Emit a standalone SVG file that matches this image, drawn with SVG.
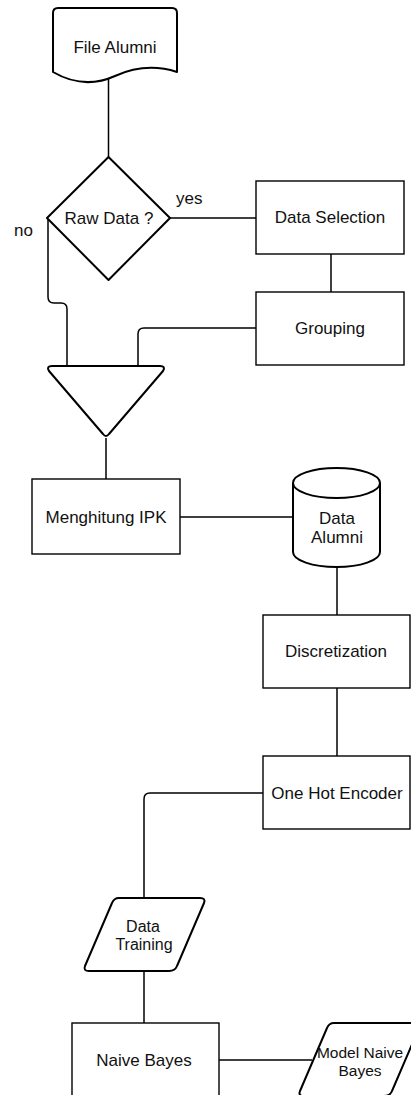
<svg xmlns="http://www.w3.org/2000/svg" width="411" height="1095" viewBox="0 0 411 1095">
<style>
  .bg { fill: #ffffff; }
  .box { fill: #ffffff; stroke: #000000; stroke-width: 1.4; }
  .shape { fill: #ffffff; stroke: #000000; stroke-width: 2; stroke-linejoin: round; }
  .conn { fill: none; stroke: #000000; stroke-width: 1.5; }
  text { font-family: "Liberation Sans", Arial, sans-serif; font-size: 17px; fill: #111111; text-anchor: middle; }
  .small { font-size: 16px; }
  .smaller { font-size: 15.5px; }
  .lbl { text-anchor: start; }
</style>
<rect class="bg" x="0" y="0" width="411" height="1095"/>

<g id="connectors">
  <path class="conn" d="M108.5,77 V157"/>
  <path class="conn" d="M170,218 H256"/>
  <path class="conn" d="M331,254 V292"/>
  <path class="conn" d="M48,218 V297 Q48,303 54,303 H61 Q67,303 67,309 V366"/>
  <path class="conn" d="M256,328 H144 Q138,328 138,334 V366"/>
  <path class="conn" d="M106,438 V479"/>
  <path class="conn" d="M180,517 H293"/>
  <path class="conn" d="M337,567 V615"/>
  <path class="conn" d="M337,688 V756"/>
  <path class="conn" d="M263,793 H150 Q144,793 144,799 V898"/>
  <path class="conn" d="M144,971 V1023"/>
  <path class="conn" d="M219,1060 H312"/>
</g>

<g id="label-yes"><text class="lbl" x="176" y="204">yes</text></g>
<g id="label-no"><text class="lbl" x="14" y="236">no</text></g>

<g id="file-alumni">
  <path class="shape" d="M53,13 Q53,8 58,8 H172 Q177,8 177,13 V72 Q146,62 115,76 Q84,90 53,72 Z"/>
  <text x="115" y="53">File Alumni</text>
</g>

<g id="raw-data">
  <path class="shape" d="M108.5,157 L170,218 L108.5,280 L47,218 Z"/>
  <text x="109" y="224">Raw Data ?</text>
</g>

<g id="data-selection">
  <rect class="box" x="256" y="181" width="148" height="73"/>
  <text x="330" y="223">Data Selection</text>
</g>

<g id="grouping">
  <rect class="box" x="256" y="292" width="148" height="73"/>
  <text x="330" y="334">Grouping</text>
</g>

<g id="merge">
  <path class="shape" d="M52,366 H160 Q166,366 163,371 L109,434 Q106,438 103,434 L49,371 Q46,366 52,366 Z"/>
</g>

<g id="menghitung-ipk">
  <rect class="box" x="32" y="479" width="148" height="75"/>
  <text x="106" y="523">Menghitung IPK</text>
</g>

<g id="data-alumni">
  <path class="shape" d="M293,483 A43.5,15 0 0 1 380,483 V552 A43.5,15 0 0 1 293,552 Z"/>
  <path class="shape" d="M293,483 A43.5,15 0 0 0 380,483"/>
  <text x="337" y="524">Data</text>
  <text x="337" y="543">Alumni</text>
</g>

<g id="discretization">
  <rect class="box" x="263" y="615" width="147" height="73"/>
  <text x="336" y="657">Discretization</text>
</g>

<g id="one-hot-encoder">
  <rect class="box" x="263" y="756" width="147" height="73"/>
  <text x="337" y="799">One Hot Encoder</text>
</g>

<g id="data-training">
  <path class="shape" d="M119,898 H200 Q206,898 204,903 L177,966 Q175,971 169,971 H89 Q83,971 85,966 L112,903 Q114,898 119,898 Z"/>
  <text class="small" x="143" y="932">Data</text>
  <text class="small" x="144" y="950">Training</text>
</g>

<g id="naive-bayes">
  <rect class="box" x="72" y="1023" width="147" height="76"/>
  <text x="144" y="1066">Naive Bayes</text>
</g>

<g id="model-naive-bayes">
  <path class="shape" d="M334,1023 H415 Q421,1023 419,1028 L392,1091 Q390,1096 384,1096 H304 Q298,1096 300,1091 L327,1028 Q329,1023 334,1023 Z"/>
  <text class="smaller" x="360" y="1058">Model Naive</text>
  <text class="smaller" x="360" y="1076">Bayes</text>
</g>
</svg>
